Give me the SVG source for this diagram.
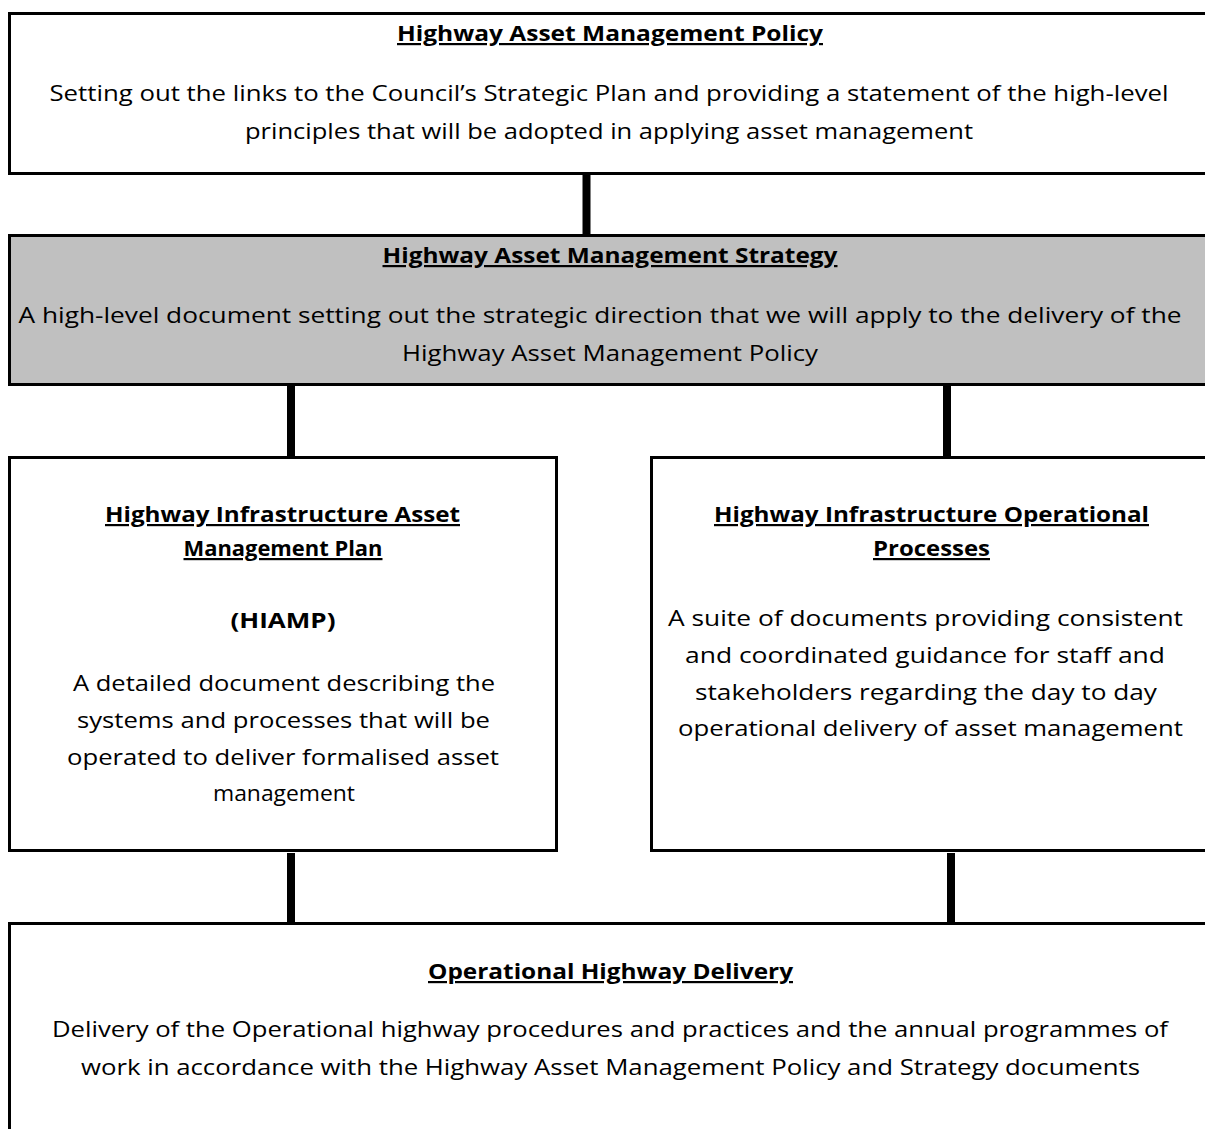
<svg xmlns="http://www.w3.org/2000/svg" width="1205" height="1129" viewBox="0 0 1205 1129">
<style>
.box{fill:#fff;stroke:#000;stroke-width:3}
.grey{fill:#c0c0c0}
text{font-family:"Open Sans","Liberation Sans",sans-serif;font-size:22px;fill:#000;text-anchor:middle}
.t{font-weight:bold;text-decoration:underline}
.b{font-weight:bold}
.conn line{stroke:#000;stroke-width:8}
</style>
<rect width="1205" height="1129" fill="#fff"/>
<g class="conn">
<line x1="586.5" y1="168" x2="586.5" y2="234"/>
<line x1="291" y1="386" x2="291" y2="456"/>
<line x1="947" y1="386" x2="947" y2="456"/>
<line x1="291" y1="853" x2="291" y2="922"/>
<line x1="951" y1="853" x2="951" y2="922"/>
</g>
<g id="policy">
<rect class="box" x="9.5" y="13.5" width="1205" height="160"/>
<text class="t" x="610" y="41" textLength="426" lengthAdjust="spacingAndGlyphs">Highway Asset Management Policy</text>
<text x="609" y="101" textLength="1119" lengthAdjust="spacingAndGlyphs">Setting out the links to the Council’s Strategic Plan and providing a statement of the high-level</text>
<text x="609" y="139" textLength="728" lengthAdjust="spacingAndGlyphs">principles that will be adopted in applying asset management</text>
</g>
<g id="strategy">
<rect class="box grey" x="9.5" y="235.5" width="1205" height="149"/>
<text class="t" x="610" y="263" textLength="455" lengthAdjust="spacingAndGlyphs">Highway Asset Management Strategy</text>
<text x="600" y="323" textLength="1163" lengthAdjust="spacingAndGlyphs">A high-level document setting out the strategic direction that we will apply to the delivery of the</text>
<text x="610" y="361" textLength="416" lengthAdjust="spacingAndGlyphs">Highway Asset Management Policy</text>
</g>
<g id="hiamp">
<rect class="box" x="9.5" y="457.5" width="547" height="393"/>
<text class="t" x="282.5" y="522" textLength="355" lengthAdjust="spacingAndGlyphs">Highway Infrastructure Asset</text>
<text class="t" x="283" y="556" textLength="199" lengthAdjust="spacingAndGlyphs">Management Plan</text>
<text class="b" x="283" y="628" textLength="105" lengthAdjust="spacingAndGlyphs">(HIAMP)</text>
<text x="284" y="691" textLength="422" lengthAdjust="spacingAndGlyphs">A detailed document describing the</text>
<text x="283.5" y="728" textLength="413" lengthAdjust="spacingAndGlyphs">systems and processes that will be</text>
<text x="283" y="765" textLength="432" lengthAdjust="spacingAndGlyphs">operated to deliver formalised asset</text>
<text x="284" y="801" textLength="142" lengthAdjust="spacingAndGlyphs">management</text>
</g>
<g id="processes">
<rect class="box" x="651.5" y="457.5" width="560" height="393"/>
<text class="t" x="931.5" y="522" textLength="435" lengthAdjust="spacingAndGlyphs">Highway Infrastructure Operational</text>
<text class="t" x="931.5" y="556" textLength="117" lengthAdjust="spacingAndGlyphs">Processes</text>
<text x="925.5" y="626" textLength="515" lengthAdjust="spacingAndGlyphs">A suite of documents providing consistent</text>
<text x="925" y="663" textLength="480" lengthAdjust="spacingAndGlyphs">and coordinated guidance for staff and</text>
<text x="926" y="700" textLength="462" lengthAdjust="spacingAndGlyphs">stakeholders regarding the day to day</text>
<text x="930.5" y="736" textLength="505" lengthAdjust="spacingAndGlyphs">operational delivery of asset management</text>
</g>
<g id="delivery">
<rect class="box" x="9.5" y="923.5" width="1205" height="220"/>
<text class="t" x="610.5" y="979" textLength="365" lengthAdjust="spacingAndGlyphs">Operational Highway Delivery</text>
<text x="610" y="1037" textLength="1116" lengthAdjust="spacingAndGlyphs">Delivery of the Operational highway procedures and practices and the annual programmes of</text>
<text x="610.5" y="1075" textLength="1059" lengthAdjust="spacingAndGlyphs">work in accordance with the Highway Asset Management Policy and Strategy documents</text>
</g>
</svg>
